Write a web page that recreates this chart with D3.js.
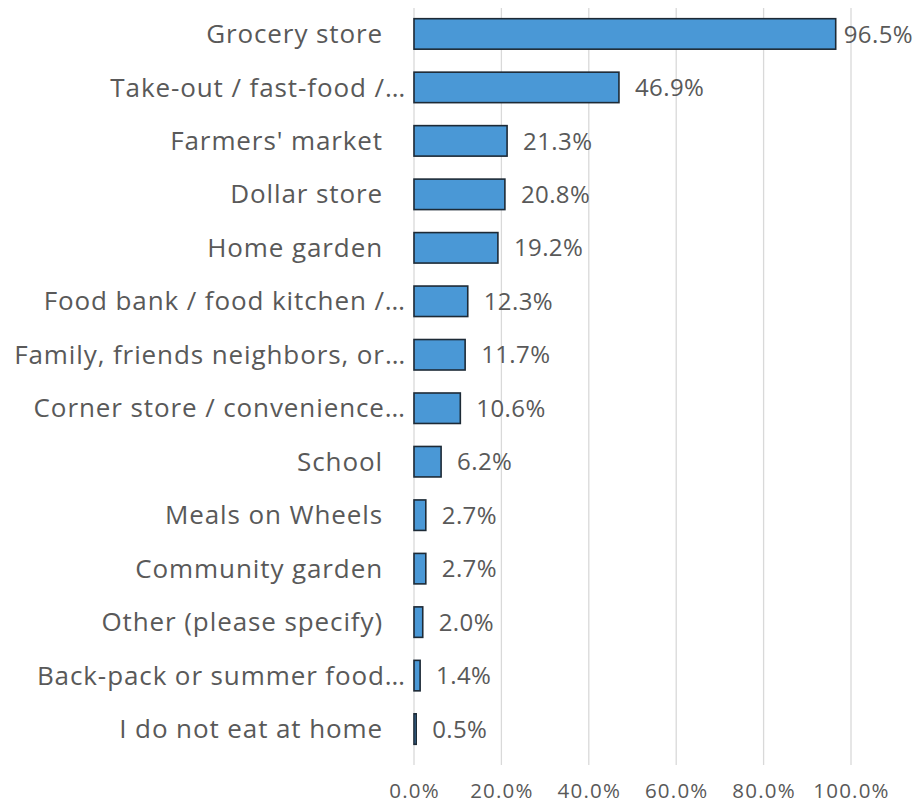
<!DOCTYPE html>
<html>
<head>
<meta charset="utf-8">
<script src="https://cdn.jsdelivr.net/npm/d3@7"></script>
<style>
  html, body { margin: 0; padding: 0; background: #fff; }
  svg { display: block; }
</style>
</head>
<body>
<svg id="chart" width="919" height="806"></svg>
<script>
// Where people get food eaten at home (share of respondents)
const categories = [
  "Grocery store",
  "Take-out / fast-food /…",
  "Farmers' market",
  "Dollar store",
  "Home garden",
  "Food bank / food kitchen /…",
  "Family, friends neighbors, or…",
  "Corner store / convenience…",
  "School",
  "Meals on Wheels",
  "Community garden",
  "Other (please specify)",
  "Back-pack or summer food…",
  "I do not eat at home"
];
const values = [96.5, 46.9, 21.3, 20.8, 19.2, 12.3, 11.7, 10.6, 6.2, 2.7, 2.7, 2.0, 1.4, 0.5];
const tickValues = [0, 20, 40, 60, 80, 100];

const W = 919, H = 806;
const font = "'Open Sans', 'DejaVu Sans', sans-serif";
const textColor = "#595959";

const svg = d3.select("#chart");

const x = d3.scaleLinear().domain([0, 100]).range([414, 851]);
const y = d3.scaleBand().domain(categories).range([8, 755]).paddingInner(0.43).paddingOuter(0.2);

// vertical gridlines
svg.append("g")
  .selectAll("line")
  .data(tickValues)
  .join("line")
  .attr("x1", d => x(d)).attr("x2", d => x(d))
  .attr("y1", 8).attr("y2", 765)
  .attr("stroke", "#d9d9d9")
  .attr("stroke-width", 1.3);

// x axis tick labels
const xAxis = d3.axisBottom(x).tickValues(tickValues).tickSize(0).tickPadding(0)
  .tickFormat(d => d.toFixed(1) + "%");
const gx = svg.append("g").attr("transform", "translate(0,798)").call(xAxis);
gx.select(".domain").remove();
gx.selectAll("text")
  .attr("font-family", font)
  .attr("font-size", 20.5)
  .attr("letter-spacing", 1.2)
  .attr("fill", textColor)
  .attr("dy", 0)
  .attr("y", 0);

// bars
svg.append("g")
  .selectAll("rect")
  .data(values)
  .join("rect")
  .attr("x", x(0))
  .attr("y", (d, i) => y(categories[i]))
  .attr("width", d => x(d) - x(0))
  .attr("height", y.bandwidth())
  .attr("fill", "#4a98d6")
  .attr("stroke", "#1d2a36")
  .attr("stroke-width", 1.6);

// category labels
svg.append("g")
  .selectAll("text")
  .data(categories)
  .join("text")
  .attr("x", d => d.endsWith("…") ? x(0) - 8 : x(0) - 31)
  .attr("y", d => y(d) + y.bandwidth() / 2)
  .attr("dy", "0.35em")
  .attr("text-anchor", "end")
  .attr("font-family", font)
  .attr("font-size", 26)
  .attr("letter-spacing", 0.9)
  .attr("fill", textColor)
  .text(d => d);

// value labels
const vl = svg.append("g")
  .selectAll("text")
  .data(values)
  .join("text")
  .attr("y", (d, i) => y(categories[i]) + y.bandwidth() / 2)
  .attr("dy", "0.36em")
  .attr("font-family", font)
  .attr("font-size", 24)
  .attr("letter-spacing", 0.4)
  .attr("fill", textColor)
  .text(d => d.toFixed(1) + "%");
vl.each(function(d) {
  const w = this.getComputedTextLength();
  this.setAttribute("x", Math.min(x(d) + 16, W - 6 - w));
});
</script>
</body>
</html>
